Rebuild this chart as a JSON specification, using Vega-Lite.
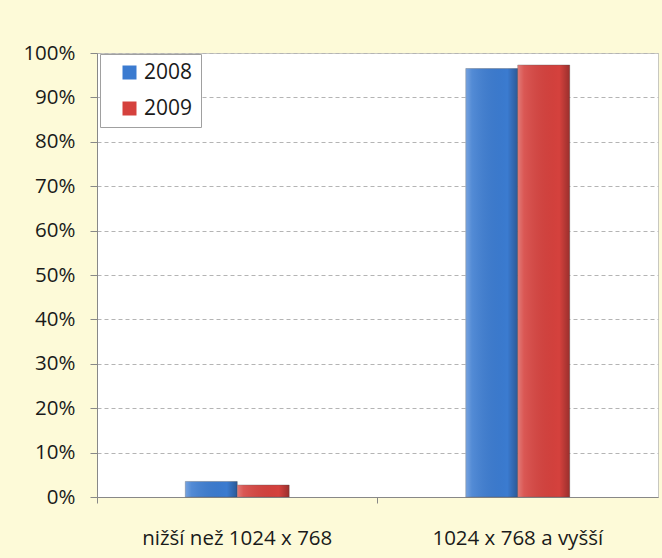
{
  "$schema": "https://vega.github.io/schema/vega-lite/v6.json",
  "width": 561,
  "height": 444,
  "autosize": {"type": "none"},
  "padding": {"left": 97, "top": 53, "right": 4, "bottom": 61},
  "background": "#fdfad8",
  "config": {
    "font": "Open Sans",
    "view": {"fill": "white", "stroke": "#c8c8c0", "strokeWidth": 1}
  },
  "data": {
    "values": [
      {"category": "nižší než 1024 x 768", "year": "2008", "share": 3.5},
      {"category": "nižší než 1024 x 768", "year": "2009", "share": 2.7},
      {"category": "1024 x 768 a vyšší", "year": "2008", "share": 96.5},
      {"category": "1024 x 768 a vyšší", "year": "2009", "share": 97.3}
    ]
  },
  "encoding": {
    "x": {
      "field": "category",
      "type": "nominal",
      "sort": ["nižší než 1024 x 768", "1024 x 768 a vyšší"],
      "scale": {"paddingInner": 0, "paddingOuter": 0},
      "axis": {
        "title": null,
        "labelAngle": 0,
        "labelFontSize": 20.5,
        "labelLimit": 400,
        "labelColor": "#1a1a1a",
        "labelPadding": 25,
        "bandPosition": 0,
        "tickSize": 6,
        "tickColor": "#888",
        "domainColor": "#888"
      }
    },
    "xOffset": {
      "field": "year",
      "type": "nominal",
      "scale": {"domain": ["gap-left", "2008", "2009", "gap-right"], "paddingInner": 0, "paddingOuter": 0.7}
    },
    "y": {
      "field": "share",
      "type": "quantitative",
      "scale": {"domain": [0, 100], "nice": false},
      "axis": {
        "title": null,
        "values": [0, 10, 20, 30, 40, 50, 60, 70, 80, 90, 100],
        "labelExpr": "datum.value + '%'",
        "labelFontSize": 20.5,
        "labelColor": "#1a1a1a",
        "labelPadding": 15,
        "tickSize": 7,
        "tickColor": "#888",
        "domainColor": "#888",
        "grid": true,
        "gridColor": "#b4b4b4",
        "gridDash": [4, 3]
      }
    }
  },
  "layer": [
    {
      "mark": {"type": "bar", "stroke": "#555", "strokeOpacity": 0.35, "strokeWidth": 1},
      "encoding": {
        "color": {
          "field": "year",
          "type": "nominal",
          "scale": {"domain": ["2008", "2009"], "range": ["#3b7bd0", "#d5413d"]},
          "legend": {
            "title": null,
            "orient": "none",
            "legendX": 3,
            "legendY": 1,
            "fillColor": "white",
            "strokeColor": "#a0a0a0",
            "padding": 8,
            "symbolType": "square",
            "symbolSize": 196,
            "symbolOffset": 11,
            "symbolStrokeWidth": 0,
            "labelFontSize": 21,
            "labelColor": "#1a1a1a",
            "labelExpr": "datum.label + '\u00a0\u00a0\u00a0\u00a0\u00a0\u00a0'",
            "rowPadding": 14,
            "labelOffset": 4
          }
        }
      }
    },
    {
      "mark": {
        "type": "bar",
        "fill": {
          "gradient": "linear",
          "x1": 0, "y1": 0, "x2": 1, "y2": 0,
          "stops": [
            {"offset": 0, "color": "rgba(255,255,255,0.3)"},
            {"offset": 0.12, "color": "rgba(255,255,255,0.12)"},
            {"offset": 0.8, "color": "rgba(0,0,0,0.0)"},
            {"offset": 1, "color": "rgba(0,0,0,0.28)"}
          ]
        }
      }
    }
  ]
}
